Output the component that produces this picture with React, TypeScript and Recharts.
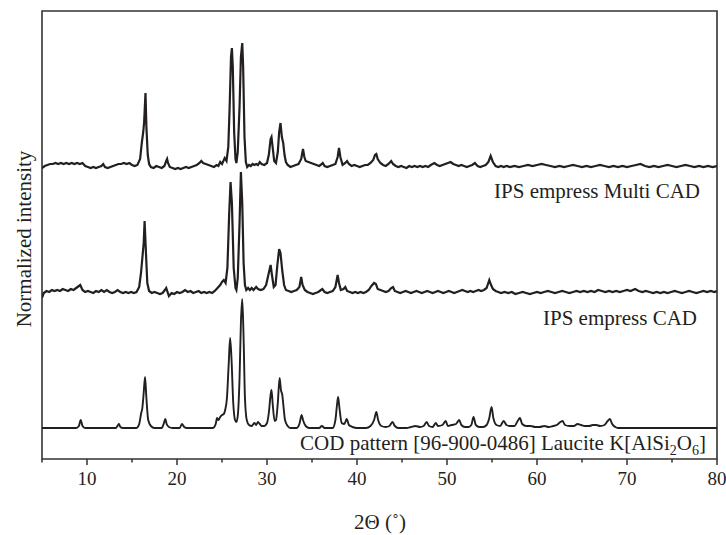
import { LineChart, Line, XAxis, YAxis, ReferenceArea } from "recharts";

// 2θ (deg), relative intensity above each trace's own baseline
const multiCad: [number, number][] = [
  [5.0, -1], [5.3, 1], [5.6, 2], [5.9, 3], [6.2, 3], [6.5, 4], [6.8, 3], [7.1, 4], [7.4, 3], [7.7, 4],
  [8.0, 3], [8.3, 4], [8.6, 3], [8.9, 4], [9.2, 3], [9.5, 4], [9.8, 1], [10.1, 0], [10.4, -1], [10.7, 0],
  [11.0, -1], [11.3, 0], [11.6, 1], [11.8, 3], [12.0, 0], [12.3, -1], [12.6, 0], [12.9, 1], [13.2, 2], [13.5, 3],
  [13.8, 3], [14.1, 4], [14.4, 3], [14.7, 4], [15.0, 2], [15.3, 1], [15.6, 2], [15.9, 8], [16.1, 25], [16.25, 35],
  [16.35, 45], [16.5, 74], [16.6, 40], [16.75, 12], [16.9, 3], [17.1, 0], [17.4, -1], [17.7, 1], [18.0, 0], [18.3, -1],
  [18.6, 1], [18.8, 6], [18.9, 8], [19.0, 4], [19.2, 0], [19.5, -1], [19.8, -2], [20.1, -1], [20.4, -2], [20.7, -1],
  [21.0, 0], [21.3, -1], [21.6, 0], [21.9, 1], [22.2, 2], [22.5, 4], [22.7, 6], [22.9, 4], [23.2, 3], [23.5, 2],
  [23.8, 1], [24.1, 0], [24.4, 2], [24.6, 1], [24.8, 5], [25.0, 3], [25.3, 9], [25.5, 6], [25.7, 20], [25.85, 60],
  [26.0, 110], [26.1, 119], [26.2, 100], [26.35, 35], [26.5, 8], [26.6, 4], [26.75, 15], [26.95, 60], [27.1, 110], [27.25, 124],
  [27.35, 100], [27.5, 30], [27.65, 5], [27.8, 0], [28.0, 2], [28.2, 1], [28.4, 3], [28.6, 2], [28.8, 3], [29.0, 2],
  [29.2, 5], [29.4, 3], [29.7, 2], [30.0, 4], [30.2, 12], [30.4, 28], [30.5, 30], [30.65, 18], [30.8, 6], [31.0, 4],
  [31.2, 15], [31.35, 35], [31.5, 44], [31.65, 30], [31.8, 24], [31.95, 12], [32.1, 5], [32.3, 2], [32.6, 0], [32.9, 1],
  [33.2, 2], [33.5, 3], [33.8, 8], [34.0, 18], [34.15, 10], [34.3, 6], [34.6, 5], [34.9, 4], [35.2, 3], [35.5, 2],
  [35.8, 1], [36.1, 3], [36.2, 4], [36.4, 1], [36.7, 0], [37.0, 1], [37.3, 2], [37.6, 3], [37.85, 10], [38.0, 19],
  [38.15, 10], [38.4, 2], [38.7, 4], [38.9, 6], [39.1, 3], [39.4, 1], [39.7, 2], [40.0, 1], [40.3, 0], [40.6, 1],
  [40.9, 2], [41.2, 2], [41.5, 4], [41.8, 7], [42.0, 12], [42.15, 13], [42.3, 8], [42.6, 4], [42.9, 2], [43.2, 1],
  [43.5, 3], [43.8, 6], [44.0, 3], [44.3, 1], [44.6, 0], [44.9, 1], [45.2, 0], [45.5, -1], [45.8, 1], [46.1, 0],
  [46.4, 1], [46.7, 0], [47.0, 1], [47.3, 0], [47.6, 1], [47.9, 0], [48.2, 2], [48.6, 4], [48.9, 2], [49.2, 1],
  [49.5, 2], [49.8, 3], [50.1, 4], [50.4, 5], [50.7, 3], [51.0, 2], [51.3, 1], [51.6, 2], [51.9, 1], [52.2, 0],
  [52.5, 1], [52.8, 2], [53.1, 4], [53.4, 1], [53.7, 0], [54.0, 1], [54.3, 2], [54.6, 5], [54.85, 11], [55.1, 5],
  [55.4, 1], [55.7, 0], [56.0, 1], [56.3, 0], [56.6, 1], [57.0, 0], [57.5, 1], [58.0, 0], [58.5, 1], [59.0, 2],
  [59.5, 1], [60.0, 2], [60.5, 3], [61.0, 2], [61.5, 1], [62.0, 0], [62.5, 1], [63.0, 0], [63.5, 1], [64.0, 2],
  [64.5, 1], [65.0, 0], [65.5, 1], [66.0, 0], [66.5, 1], [67.0, 2], [67.5, 1], [68.0, 0], [68.5, 1], [69.0, 0],
  [69.5, 1], [70.0, 0], [70.5, 1], [71.0, 2], [71.5, 3], [72.0, 1], [72.5, 0], [73.0, 1], [73.5, 0], [74.0, 1],
  [74.5, 2], [75.0, 1], [75.5, 0], [76.0, 1], [76.5, 2], [77.0, 1], [77.5, 0], [78.0, 1], [78.5, 0], [79.0, 1],
  [79.5, 0], [80.0, 1],
];

const cad: [number, number][] = [
  [5.0, -5], [5.2, 0], [5.5, 2], [5.8, 1], [6.1, 3], [6.4, 2], [6.7, 3], [7.0, 2], [7.3, 4], [7.6, 3],
  [7.9, 2], [8.2, 4], [8.5, 3], [8.8, 5], [9.1, 7], [9.25, 8], [9.5, 3], [9.8, 1], [10.1, 2], [10.4, 1],
  [10.7, 0], [11.0, 2], [11.3, 1], [11.6, 3], [11.9, 1], [12.2, 3], [12.5, 1], [12.8, 0], [13.1, 1], [13.4, 3],
  [13.7, 1], [14.0, 0], [14.3, 1], [14.6, 0], [14.9, 1], [15.2, 0], [15.5, 1], [15.8, 6], [16.0, 20], [16.15, 35],
  [16.3, 50], [16.4, 72], [16.55, 40], [16.7, 10], [16.9, 2], [17.2, 0], [17.5, 1], [17.8, 0], [18.1, -1], [18.4, 0],
  [18.65, 3], [18.8, 5], [18.95, 1], [19.1, -3], [19.4, 0], [19.7, -1], [20.0, 1], [20.3, 0], [20.6, 1], [20.9, 3],
  [21.2, 1], [21.5, 2], [21.8, 0], [22.1, 1], [22.4, 2], [22.7, 0], [23.0, 1], [23.3, 0], [23.6, 1], [23.9, 0],
  [24.2, 2], [24.5, 5], [24.8, 8], [25.0, 11], [25.2, 13], [25.4, 10], [25.6, 25], [25.8, 80], [25.95, 111], [26.1, 90],
  [26.3, 25], [26.5, 5], [26.6, 3], [26.75, 15], [26.95, 70], [27.1, 121], [27.25, 90], [27.4, 30], [27.55, 8], [27.7, 3],
  [27.9, 5], [28.1, 3], [28.3, 5], [28.5, 3], [28.8, 6], [29.0, 4], [29.3, 3], [29.6, 4], [29.9, 8], [30.2, 20],
  [30.4, 28], [30.55, 18], [30.75, 6], [30.95, 8], [31.15, 28], [31.35, 44], [31.5, 40], [31.7, 22], [31.9, 8], [32.1, 3],
  [32.4, 2], [32.7, 1], [33.0, 2], [33.3, 3], [33.6, 6], [33.8, 16], [33.95, 8], [34.2, 3], [34.5, 1], [34.8, 0],
  [35.1, -1], [35.4, 0], [35.7, 1], [36.0, 3], [36.15, 4], [36.4, 1], [36.7, 0], [37.0, 1], [37.3, 2], [37.6, 6],
  [37.85, 18], [38.0, 10], [38.2, 3], [38.5, 4], [38.7, 6], [38.9, 2], [39.2, 1], [39.5, 0], [39.8, 1], [40.1, 0],
  [40.4, 1], [40.7, 0], [41.0, 1], [41.3, 3], [41.6, 7], [41.9, 10], [42.1, 9], [42.3, 4], [42.6, 3], [42.9, 2],
  [43.2, 1], [43.5, 2], [43.8, 5], [44.0, 6], [44.2, 2], [44.5, 1], [44.8, 0], [45.1, 1], [45.4, 2], [45.7, 1],
  [46.0, 0], [46.3, 1], [46.6, 2], [46.9, 1], [47.2, 0], [47.5, 1], [47.8, 2], [48.1, 1], [48.4, 0], [48.7, 1],
  [49.0, 2], [49.3, 1], [49.6, 0], [49.9, 1], [50.2, 2], [50.5, 1], [50.8, 0], [51.1, 1], [51.4, 2], [51.7, 3],
  [52.0, 2], [52.3, 1], [52.6, 2], [52.9, 1], [53.2, 2], [53.5, 3], [53.8, 2], [54.1, 3], [54.4, 5], [54.7, 13],
  [54.9, 8], [55.1, 4], [55.4, 2], [55.7, 1], [56.0, 0], [56.4, 1], [56.8, 0], [57.2, 1], [57.6, -1], [58.0, 0],
  [58.4, 1], [58.8, 0], [59.2, -1], [59.6, 0], [60.0, 1], [60.4, 0], [60.8, 1], [61.2, 2], [61.6, 1], [62.0, 0],
  [62.4, 1], [62.8, 2], [63.2, 1], [63.6, 0], [64.0, 1], [64.4, 2], [64.8, 1], [65.2, 2], [65.6, 1], [66.0, 2],
  [66.4, 1], [66.8, 3], [67.2, 2], [67.6, 1], [68.0, 2], [68.4, 1], [68.8, 2], [69.2, 1], [69.6, 2], [70.0, 3],
  [70.4, 2], [70.9, 4], [71.3, 2], [71.7, 1], [72.1, 2], [72.5, 1], [72.9, 0], [73.3, 1], [73.7, 0], [74.1, 1],
  [74.5, 0], [74.9, 1], [75.3, 2], [75.7, 1], [76.1, 0], [76.5, 1], [76.9, 2], [77.3, 1], [77.7, 0], [78.1, 1],
  [78.5, 2], [78.9, 1], [79.3, 2], [79.7, 1], [80.0, 2],
];

// COD reference pattern (calculated, smooth)
const codLeucite: [number, number][] = [
  [5.0, 0], [8.8, 0], [9.1, 2], [9.3, 8], [9.5, 2], [9.8, 0], [13.2, 0], [13.45, 3], [13.55, 4], [13.7, 1],
  [14.0, 0], [15.5, 0], [15.8, 4], [16.0, 14], [16.15, 20], [16.3, 35], [16.45, 51], [16.6, 30], [16.8, 8], [17.1, 2],
  [17.5, 0], [18.3, 0], [18.55, 5], [18.7, 9], [18.85, 4], [19.1, 1], [19.5, 0], [20.3, 0], [20.55, 4], [20.8, 1],
  [21.1, 0], [24.0, 0], [24.3, 4], [24.45, 10], [24.6, 8], [24.8, 11], [25.0, 13], [25.2, 14], [25.35, 18], [25.55, 30],
  [25.75, 65], [25.9, 90], [26.05, 70], [26.25, 25], [26.45, 8], [26.6, 6], [26.75, 12], [26.95, 50], [27.1, 105], [27.25, 129],
  [27.4, 90], [27.55, 30], [27.75, 8], [28.0, 3], [28.3, 2], [28.6, 5], [28.8, 3], [29.0, 6], [29.2, 4], [29.4, 2],
  [29.7, 2], [30.0, 5], [30.2, 15], [30.4, 33], [30.5, 38], [30.65, 22], [30.85, 7], [31.0, 8], [31.2, 25], [31.4, 50],
  [31.55, 38], [31.7, 33], [31.85, 20], [32.0, 8], [32.3, 2], [32.6, 0], [33.3, 0], [33.6, 4], [33.85, 13], [34.0, 8],
  [34.3, 2], [34.7, 0], [35.8, 0], [36.1, 2], [36.4, 0], [37.3, 0], [37.6, 8], [37.8, 25], [37.9, 31], [38.05, 20],
  [38.3, 5], [38.6, 4], [38.85, 9], [39.1, 3], [39.5, 1], [40.0, 0], [41.0, 0], [41.5, 2], [41.9, 8], [42.15, 16],
  [42.35, 8], [42.7, 2], [43.2, 1], [43.6, 2], [43.95, 6], [44.2, 2], [44.6, 0], [45.5, 0], [46.0, 1], [46.5, 2],
  [47.0, 1], [47.4, 2], [47.75, 6], [48.0, 2], [48.4, 1], [48.75, 5], [49.0, 2], [49.5, 3], [49.85, 7], [50.1, 2],
  [50.5, 3], [51.0, 4], [51.35, 8], [51.6, 3], [52.0, 1], [52.4, 1], [52.7, 3], [52.95, 11], [53.2, 3], [53.6, 1],
  [54.0, 1], [54.4, 3], [54.7, 10], [54.95, 21], [55.15, 10], [55.5, 3], [55.9, 2], [56.3, 7], [56.6, 3], [57.0, 2],
  [57.5, 2], [57.85, 7], [58.1, 10], [58.35, 4], [58.8, 2], [59.3, 2], [59.8, 1], [60.3, 1], [60.8, 2], [61.3, 1],
  [61.8, 2], [62.2, 3], [62.6, 6], [62.85, 7], [63.1, 3], [63.6, 2], [64.1, 2], [64.5, 4], [64.9, 3], [65.3, 2],
  [65.8, 2], [66.2, 3], [66.6, 3], [67.0, 2], [67.5, 3], [67.85, 7], [68.1, 9], [68.35, 4], [68.7, 1], [69.0, 0],
  [80.0, 0],
];

// vertical stacking offsets
const COD_OFFSET = 0;
const CAD_OFFSET = 135;
const MULTI_OFFSET = 261;

const X_DOMAIN = [5, 80];
const Y_DOMAIN = [-31, 417];
const xTicks = [5, 10, 15, 20, 25, 30, 35, 40, 45, 50, 55, 60, 65, 70, 75, 80];

const toRows = (pts: [number, number][], off: number) =>
  pts.map(([x, y]) => ({ x, y: y + off }));

const INK = "#231f20";
const FRAME = "#333";
const FONT = "'Liberation Serif', 'DejaVu Serif', serif";

const XTick = (props: any) => {
  const { x, y, payload } = props;
  const major = payload.value % 10 === 0;
  return (
    <g>
      <line x1={x} x2={x} y1={y} y2={y + (major ? 6 : 3.5)} stroke={FRAME} strokeWidth={1.5} />
      {major && (
        <text x={x} y={y + 26} textAnchor="middle" fontSize={19} fontFamily={FONT} fill={INK}>
          {payload.value}
        </text>
      )}
    </g>
  );
};

const App = () => {
  const W = 726;
  const H = 535;
  return (
    <div style={{ position: "fixed", left: 0, top: 0, width: W, height: H, background: "#fff" }}>
      <LineChart width={W} height={H} margin={{ top: 11, right: 9, left: 42, bottom: 46 }}>
        <XAxis
          dataKey="x"
          type="number"
          domain={X_DOMAIN}
          ticks={xTicks}
          interval={0}
          allowDataOverflow
          height={30}
          tickSize={0}
          tickMargin={0}
          tickLine={false}
          tick={<XTick />}
          axisLine={false}
        />
        <YAxis type="number" domain={Y_DOMAIN} allowDataOverflow width={0} tick={false} tickLine={false} axisLine={false} />
        <ReferenceArea
          x1={X_DOMAIN[0]}
          x2={X_DOMAIN[1]}
          y1={Y_DOMAIN[0]}
          y2={Y_DOMAIN[1]}
          fill="none"
          fillOpacity={0}
          stroke={FRAME}
          strokeWidth={1.6}
          ifOverflow="visible"
        />
        <Line
          data={toRows(codLeucite, COD_OFFSET)}
          dataKey="y"
          type="monotone"
          stroke={INK}
          strokeWidth={1.9}
          dot={false}
          isAnimationActive={false}
        />
        <Line
          data={toRows(cad, CAD_OFFSET)}
          dataKey="y"
          type="linear"
          stroke={INK}
          strokeWidth={2.2}
          dot={false}
          isAnimationActive={false}
        />
        <Line
          data={toRows(multiCad, MULTI_OFFSET)}
          dataKey="y"
          type="linear"
          stroke={INK}
          strokeWidth={2.2}
          dot={false}
          isAnimationActive={false}
        />
      </LineChart>
      <svg
        width={W}
        height={H}
        style={{ position: "absolute", left: 0, top: 0, pointerEvents: "none" }}
        fontFamily={FONT}
        fill={INK}
      >
        <text x={700} y={198} textAnchor="end" fontSize={21}>IPS empress Multi CAD</text>
        <text x={697} y={325} textAnchor="end" fontSize={21}>IPS empress CAD</text>
        <text x={706} y={450} textAnchor="end" fontSize={21}>
          COD pattern [96-900-0486] Laucite K[AlSi
          <tspan fontSize={14} dy={5}>2</tspan>
          <tspan dy={-5}>O</tspan>
          <tspan fontSize={14} dy={5}>6</tspan>
          <tspan dy={-5}>]</tspan>
        </text>
        <text x={380} y={529} textAnchor="middle" fontSize={21}>2Θ (˚)</text>
        <text transform="translate(31,239) rotate(-90)" textAnchor="middle" fontSize={21}>
          Normalized intensity
        </text>
      </svg>
    </div>
  );
};

export default App;
